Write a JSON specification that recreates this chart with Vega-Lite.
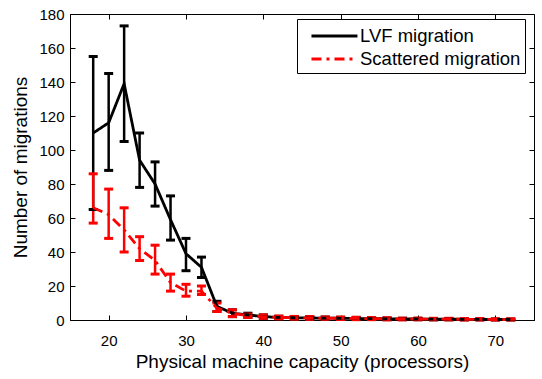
{
  "$schema": "https://vega.github.io/schema/vega-lite/v6.json",
  "width": 464,
  "height": 306,
  "autosize": {"type": "none"},
  "padding": {"left": 70, "top": 14, "right": 8, "bottom": 59},
  "config": {
    "font": "Liberation Sans",
    "view": {"stroke": "black", "strokeWidth": 1},
    "axis": {"grid": false, "domainColor": "black", "tickColor": "black", "labelColor": "black", "titleColor": "black", "labelFont": "Liberation Sans", "titleFont": "Liberation Sans", "labelFontSize": 15, "titleFontSize": 19, "titleFontWeight": "normal", "tickSize": -5, "labelOverlap": false}
  },
  "data": {"values": [
    {"series": "LVF migration", "x": 18, "m": 110, "lo": 65, "hi": 155},
    {"series": "LVF migration", "x": 20, "m": 116, "lo": 88, "hi": 145},
    {"series": "LVF migration", "x": 22, "m": 139, "lo": 105, "hi": 173},
    {"series": "LVF migration", "x": 24, "m": 94, "lo": 78, "hi": 110},
    {"series": "LVF migration", "x": 26, "m": 80, "lo": 67, "hi": 93},
    {"series": "LVF migration", "x": 28, "m": 59, "lo": 47, "hi": 73},
    {"series": "LVF migration", "x": 30, "m": 39, "lo": 29, "hi": 48},
    {"series": "LVF migration", "x": 32, "m": 31, "lo": 25, "hi": 37},
    {"series": "LVF migration", "x": 34, "m": 8, "lo": 5, "hi": 11},
    {"series": "LVF migration", "x": 36, "m": 4, "lo": 2, "hi": 6},
    {"series": "LVF migration", "x": 38, "m": 3, "lo": 1.5, "hi": 4},
    {"series": "LVF migration", "x": 40, "m": 2, "lo": 1, "hi": 3},
    {"series": "LVF migration", "x": 42, "m": 1.5, "lo": 0.8, "hi": 2.2},
    {"series": "LVF migration", "x": 44, "m": 1.3, "lo": 0.6, "hi": 2},
    {"series": "LVF migration", "x": 46, "m": 1.2, "lo": 0.5, "hi": 1.9},
    {"series": "LVF migration", "x": 48, "m": 1.1, "lo": 0.5, "hi": 1.7},
    {"series": "LVF migration", "x": 50, "m": 1.0, "lo": 0.4, "hi": 1.6},
    {"series": "LVF migration", "x": 52, "m": 0.9, "lo": 0.3, "hi": 1.5},
    {"series": "LVF migration", "x": 54, "m": 0.8, "lo": 0.3, "hi": 1.3},
    {"series": "LVF migration", "x": 56, "m": 0.7, "lo": 0.2, "hi": 1.2},
    {"series": "LVF migration", "x": 58, "m": 0.6, "lo": 0.2, "hi": 1.0},
    {"series": "LVF migration", "x": 60, "m": 0.6, "lo": 0.2, "hi": 1.0},
    {"series": "LVF migration", "x": 62, "m": 0.5, "lo": 0.1, "hi": 0.9},
    {"series": "LVF migration", "x": 64, "m": 0.5, "lo": 0.1, "hi": 0.9},
    {"series": "LVF migration", "x": 66, "m": 0.4, "lo": 0.1, "hi": 0.7},
    {"series": "LVF migration", "x": 68, "m": 0.4, "lo": 0.1, "hi": 0.7},
    {"series": "LVF migration", "x": 70, "m": 0.3, "lo": 0.0, "hi": 0.6},
    {"series": "LVF migration", "x": 72, "m": 0.3, "lo": 0.0, "hi": 0.6},
    {"series": "Scattered migration", "x": 18, "m": 66, "lo": 57, "hi": 86},
    {"series": "Scattered migration", "x": 20, "m": 62, "lo": 48, "hi": 77},
    {"series": "Scattered migration", "x": 22, "m": 53, "lo": 40, "hi": 66},
    {"series": "Scattered migration", "x": 24, "m": 42, "lo": 35, "hi": 49},
    {"series": "Scattered migration", "x": 26, "m": 35, "lo": 27, "hi": 44},
    {"series": "Scattered migration", "x": 28, "m": 22, "lo": 17, "hi": 27},
    {"series": "Scattered migration", "x": 30, "m": 17, "lo": 14, "hi": 21},
    {"series": "Scattered migration", "x": 32, "m": 17, "lo": 15, "hi": 20},
    {"series": "Scattered migration", "x": 34, "m": 7, "lo": 5, "hi": 10},
    {"series": "Scattered migration", "x": 36, "m": 4, "lo": 2, "hi": 6},
    {"series": "Scattered migration", "x": 38, "m": 2.5, "lo": 1.5, "hi": 3.5},
    {"series": "Scattered migration", "x": 40, "m": 2, "lo": 1, "hi": 3},
    {"series": "Scattered migration", "x": 42, "m": 1.5, "lo": 0.7, "hi": 2.3},
    {"series": "Scattered migration", "x": 44, "m": 1.3, "lo": 0.5, "hi": 2.1},
    {"series": "Scattered migration", "x": 46, "m": 1.2, "lo": 0.4, "hi": 2},
    {"series": "Scattered migration", "x": 48, "m": 1.1, "lo": 0.4, "hi": 1.8},
    {"series": "Scattered migration", "x": 50, "m": 1.0, "lo": 0.3, "hi": 1.7},
    {"series": "Scattered migration", "x": 52, "m": 0.9, "lo": 0.2, "hi": 1.6},
    {"series": "Scattered migration", "x": 54, "m": 0.8, "lo": 0.2, "hi": 1.4},
    {"series": "Scattered migration", "x": 56, "m": 0.7, "lo": 0.1, "hi": 1.3},
    {"series": "Scattered migration", "x": 58, "m": 0.6, "lo": 0.1, "hi": 1.1},
    {"series": "Scattered migration", "x": 60, "m": 0.6, "lo": 0.1, "hi": 1.1},
    {"series": "Scattered migration", "x": 62, "m": 0.5, "lo": 0.1, "hi": 1.0},
    {"series": "Scattered migration", "x": 64, "m": 0.5, "lo": 0.1, "hi": 1.0},
    {"series": "Scattered migration", "x": 66, "m": 0.4, "lo": 0.0, "hi": 0.8},
    {"series": "Scattered migration", "x": 68, "m": 0.4, "lo": 0.0, "hi": 0.8},
    {"series": "Scattered migration", "x": 70, "m": 0.3, "lo": 0.0, "hi": 0.7},
    {"series": "Scattered migration", "x": 72, "m": 0.3, "lo": 0.0, "hi": 0.7}
  ]},
  "layer": [
    {
      "encoding": {
        "x": {"field": "x", "type": "quantitative", "scale": {"domain": [15, 75], "nice": false}, "axis": {"values": [20, 30, 40, 50, 60, 70], "title": "Physical machine capacity (processors)", "labelPadding": 18, "titlePadding": 4, "labelOverlap": false}},
        "color": {"field": "series", "type": "nominal", "scale": {"domain": ["LVF migration", "Scattered migration"], "range": ["black", "#ff0000"]},
          "legend": {"orient": "none", "legendX": 227, "legendY": 5, "title": null, "strokeColor": "black", "fillColor": "white", "padding": 4, "labelFontSize": 18.5, "labelFont": "Liberation Sans", "labelColor": "black", "labelLimit": 400, "symbolType": "M-0.22,0H3.78", "symbolSize": 529, "symbolStrokeWidth": 3, "symbolOpacity": 1, "rowPadding": 0, "labelOffset": 33}}
      },
      "layer": [
        {
          "mark": {"type": "rule", "strokeWidth": 2.5},
          "encoding": {
            "y": {"field": "lo", "type": "quantitative", "scale": {"domain": [0, 180], "nice": false}, "axis": {"values": [0, 20, 40, 60, 80, 100, 120, 140, 160, 180], "title": "Number of migrations", "labelPadding": 11, "titlePadding": 8, "labelOverlap": false}},
            "y2": {"field": "hi"}
          }
        },
        {
          "mark": {"type": "tick", "orient": "horizontal", "size": 9, "thickness": 3, "opacity": 1},
          "encoding": {"y": {"field": "lo", "type": "quantitative", "axis": {"values": [0, 20, 40, 60, 80, 100, 120, 140, 160, 180], "title": "Number of migrations", "labelPadding": 11, "titlePadding": 8, "labelOverlap": false}}}
        },
        {
          "mark": {"type": "tick", "orient": "horizontal", "size": 9, "thickness": 3, "opacity": 1},
          "encoding": {"y": {"field": "hi", "type": "quantitative", "axis": {"values": [0, 20, 40, 60, 80, 100, 120, 140, 160, 180], "title": "Number of migrations", "labelPadding": 11, "titlePadding": 8, "labelOverlap": false}}}
        },
        {
          "mark": {"type": "line", "strokeWidth": 2.8},
          "encoding": {
            "y": {"field": "m", "type": "quantitative", "axis": {"values": [0, 20, 40, 60, 80, 100, 120, 140, 160, 180], "title": "Number of migrations", "labelPadding": 11, "titlePadding": 8, "labelOverlap": false}},
            "strokeDash": {"field": "series", "type": "nominal", "scale": {"domain": ["LVF migration", "Scattered migration"], "range": [[1, 0], [10, 5, 3, 5]]},
              "legend": {"orient": "none", "legendX": 227, "legendY": 5, "title": null, "strokeColor": "black", "fillColor": "white", "padding": 4, "labelFontSize": 18.5, "labelFont": "Liberation Sans", "labelColor": "black", "labelLimit": 400, "symbolType": "M-0.22,0H3.78", "symbolSize": 529, "symbolStrokeWidth": 3, "symbolOpacity": 1, "rowPadding": 0, "labelOffset": 33}}
          }
        }
      ]
    },
    {
      "mark": {"type": "rule", "strokeWidth": 0},
      "encoding": {
        "x": {"field": "x", "type": "quantitative", "axis": {"orient": "top", "values": [20, 30, 40, 50, 60, 70], "labels": false, "title": null, "domain": false}},
        "y": {"field": "m", "type": "quantitative", "axis": {"orient": "right", "values": [0, 20, 40, 60, 80, 100, 120, 140, 160, 180], "labels": false, "title": null, "domain": false}}
      }
    }
  ],
  "resolve": {"axis": {"x": "independent", "y": "independent"}}
}
